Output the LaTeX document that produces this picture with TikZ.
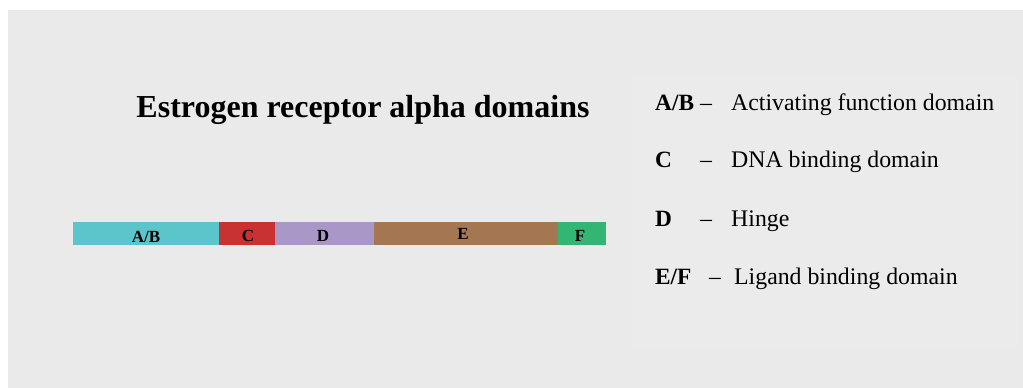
\documentclass[tikz,border=0pt]{standalone}
\usepackage{fontspec}
\setmainfont{Liberation Serif}
\definecolor{bgc}{HTML}{EAEAEB}
\definecolor{legc}{HTML}{EBEBEB}
\definecolor{cAB}{HTML}{5BC5CB}
\definecolor{cC}{HTML}{C83232}
\definecolor{cD}{HTML}{A997C8}
\definecolor{cE}{HTML}{A47752}
\definecolor{cF}{HTML}{33B674}
\tikzset{
  seg/.style={draw=none, inner sep=0pt, minimum height=23pt, font=\bfseries\fontsize{17}{17}\selectfont, text=black},
  leg/.style={anchor=base west, inner sep=0pt, font=\fontsize{23.8}{23.8}\selectfont, text=black},
  legb/.style={leg, font=\bfseries\fontsize{23.3}{23.3}\selectfont}
}
\begin{document}
\begin{tikzpicture}[x=1pt,y=-1pt]
\useasboundingbox (0,0) rectangle (1023,388);
\fill[white] (0,0) rectangle (1023,388);
\fill[bgc] (8,10) rectangle (1023,388);
\fill[legc] (633,75) rectangle (1018,348);
\node[font=\bfseries\fontsize{32}{32}\selectfont, anchor=base, inner sep=0pt] (title) at (363,117) {Estrogen receptor alpha domains};
% bar
\node[seg, fill=cAB, minimum width=146pt, anchor=north west] (ab) at (73,222) {};
\node[seg, fill=cC, minimum width=56pt, anchor=north west] (c) at (219,222) {};
\node[seg, fill=cD, minimum width=99pt, anchor=north west] (d) at (275,222) {};
\node[seg, fill=cE, minimum width=184pt, anchor=north west] (e) at (374,222) {};
\node[seg, fill=cF, minimum width=48pt, anchor=north west] (f) at (558,222) {};
\node[seg, anchor=base] (lab) at (146,242) {A/B};
\node[seg, anchor=base] (lc) at (248,241) {C};
\node[seg, anchor=base] (ld) at (323,241) {D};
\node[seg, anchor=base] (le) at (463,239) {E};
\node[seg, anchor=base] (lf) at (580,241) {F};
% legend
\node[legb] (k1) at (655,110) {A/B};
\node[leg] (m1) at (700,110) {–};
\node[leg] (t1) at (731,110) {Activating function domain};
\node[legb] (k2) at (655,167) {C};
\node[leg] (m2) at (700,167) {–};
\node[leg] (t2) at (731,167) {DNA binding domain};
\node[legb] (k3) at (655,226) {D};
\node[leg] (m3) at (700,226) {–};
\node[leg] (t3) at (731,226) {Hinge};
\node[legb] (k4) at (655,284) {E/F};
\node[leg] (m4) at (709,284) {–};
\node[leg] (t4) at (734,284) {Ligand binding domain};
\end{tikzpicture}
\end{document}
